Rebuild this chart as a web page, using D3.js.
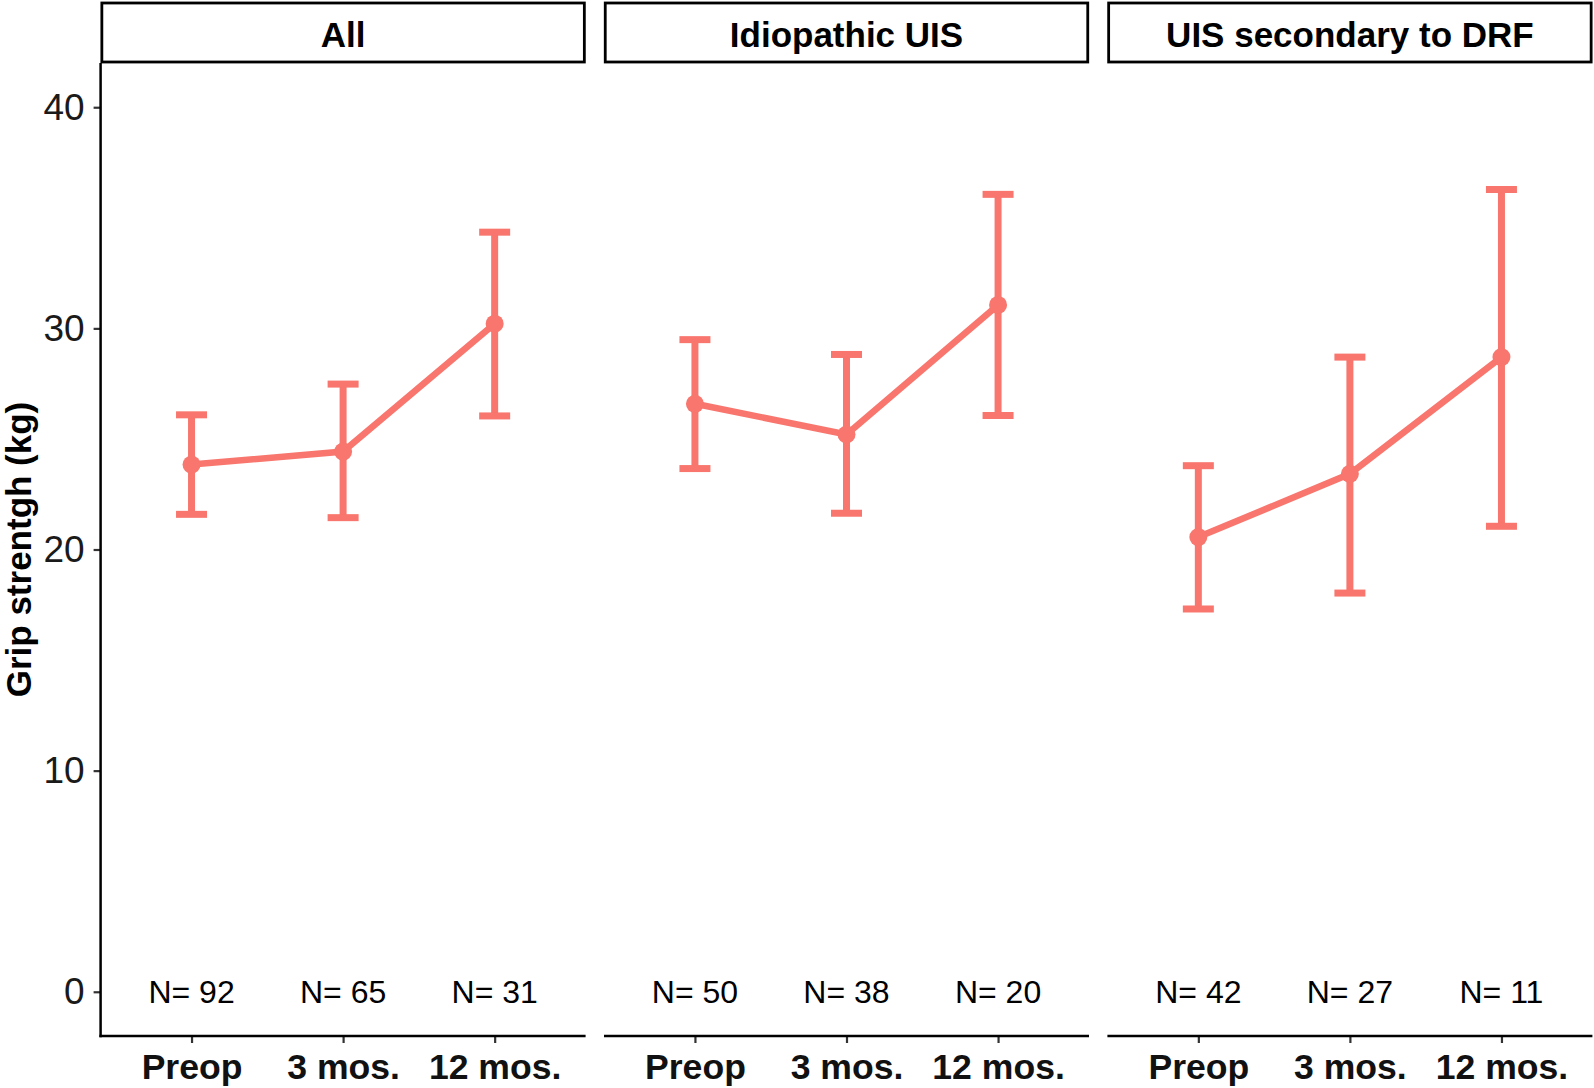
<!DOCTYPE html>
<html>
<head>
<meta charset="utf-8">
<script src="https://cdn.jsdelivr.net/npm/d3@7"></script>
<style>
  body { margin: 0; background: #fff; }
  svg { display: block; font-family: "Liberation Sans", Arial, sans-serif; }
</style>
</head>
<body>
<div id="chart"></div>
<script>
// data ------------------------------------------------------------------
const panels     = ["All", "Idiopathic UIS", "UIS secondary to DRF"]
const timepoints = ["Preop", "3 mos.", "12 mos."]

const means  = [[23.84, 24.43, 30.21], [26.59, 25.20, 31.06], [20.56, 23.42, 28.70]]
const lowers = [[21.59, 21.44, 26.04], [23.66, 21.64, 26.06], [17.31, 18.03, 21.05]]
const uppers = [[26.09, 27.48, 34.35], [29.49, 28.82, 36.06], [23.79, 28.70, 36.28]]
const counts = [[92, 65, 31], [50, 38, 20], [42, 27, 11]]

const yTicks = [0, 10, 20, 30, 40]

// layout ----------------------------------------------------------------
const width = 1594,
      height = 1088,
      panelLeft = 100.6,
      panelWidth = 485,
      panelGap = 18.4,
      plotTop = 63,
      plotBottom = 1036,
      stripTop = 3,
      lineColor = "#F8766D",
      capHalf = 15.5

const svg = d3.select("#chart").append("svg")
  .attr("width", width)
  .attr("height", height)

const y = d3.scaleLinear().domain([-2, 42]).range([plotBottom, plotTop])

// y axis only on first panel
const yAxis = svg.append("g")
  .attr("transform", `translate(${panelLeft},0)`)
  .call(d3.axisLeft(y).tickValues(yTicks).tickSize(7).tickPadding(9))
yAxis.select(".domain").remove()
yAxis.selectAll(".tick line").attr("stroke", "#333").attr("stroke-width", 2.2)
yAxis.selectAll(".tick text")
  .attr("fill", "#1a1a1a")
  .style("font-size", "37px")
  .attr("font-family", null)

svg.append("line")
  .attr("x1", panelLeft).attr("x2", panelLeft)
  .attr("y1", plotTop).attr("y2", plotBottom + 1.2)
  .attr("stroke", "#000").attr("stroke-width", 2.5)

// y title (typo kept as in the original)
svg.append("text")
  .attr("transform", `translate(31,${(plotTop + plotBottom) / 2}) rotate(-90)`)
  .attr("text-anchor", "middle")
  .style("font-size", "35px")
  .style("font-weight", "bold")
  .text("Grip strentgh (kg)")

panels.forEach((name, i) => {
  const x0 = panelLeft + i * (panelWidth + panelGap)
  const x = d3.scalePoint().domain(timepoints).range([x0, x0 + panelWidth]).padding(0.6)
  const g = svg.append("g")

  // strip
  g.append("rect")
    .attr("x", x0 + 1.25).attr("y", stripTop)
    .attr("width", panelWidth - 2.5).attr("height", plotTop - stripTop - 1)
    .attr("fill", "#fff").attr("stroke", "#000").attr("stroke-width", 2.8)
  g.append("text")
    .attr("x", x0 + panelWidth / 2).attr("y", 34)
    .attr("text-anchor", "middle")
    .attr("dominant-baseline", "central")
    .style("font-size", "35px")
    .style("font-weight", "bold")
    .text(name)

  // x axis
  const xAxis = g.append("g")
    .attr("transform", `translate(0,${plotBottom})`)
    .call(d3.axisBottom(x).tickSize(7).tickPadding(11))
  xAxis.select(".domain").remove()
  xAxis.selectAll(".tick line").attr("stroke", "#333").attr("stroke-width", 2.2)
  xAxis.selectAll(".tick text")
    .attr("fill", "#111")
    .attr("font-family", null)
    .style("font-size", "35.6px")
    .style("font-weight", "bold")
  g.append("line")
    .attr("x1", x0 - (i === 0 ? 1.2 : 0)).attr("x2", x0 + panelWidth)
    .attr("y1", plotBottom).attr("y2", plotBottom)
    .attr("stroke", "#000").attr("stroke-width", 2.5)

  const rows = timepoints.map((t, j) => ({
    t, mean: means[i][j], lo: lowers[i][j], hi: uppers[i][j], n: counts[i][j]
  }))

  // error bars
  const eb = g.selectAll(".eb").data(rows).enter().append("g")
  eb.append("line")
    .attr("x1", d => x(d.t)).attr("x2", d => x(d.t))
    .attr("y1", d => y(d.lo)).attr("y2", d => y(d.hi))
    .attr("stroke", lineColor).attr("stroke-width", 7)
  eb.append("line")
    .attr("x1", d => x(d.t) - capHalf).attr("x2", d => x(d.t) + capHalf)
    .attr("y1", d => y(d.hi)).attr("y2", d => y(d.hi))
    .attr("stroke", lineColor).attr("stroke-width", 7)
  eb.append("line")
    .attr("x1", d => x(d.t) - capHalf).attr("x2", d => x(d.t) + capHalf)
    .attr("y1", d => y(d.lo)).attr("y2", d => y(d.lo))
    .attr("stroke", lineColor).attr("stroke-width", 7)

  // mean line and points
  g.append("path")
    .datum(rows)
    .attr("fill", "none")
    .attr("stroke", lineColor)
    .attr("stroke-width", 6.5)
    .attr("d", d3.line().x(d => x(d.t)).y(d => y(d.mean)))
  g.selectAll(".pt").data(rows).enter().append("circle")
    .attr("cx", d => x(d.t)).attr("cy", d => y(d.mean))
    .attr("r", 9)
    .attr("fill", lineColor)

  // sample sizes
  g.selectAll(".n").data(rows).enter().append("text")
    .attr("x", d => x(d.t)).attr("y", y(0))
    .attr("text-anchor", "middle")
    .attr("dominant-baseline", "central")
    .style("font-size", "32px")
    .attr("fill", "#000")
    .text(d => "N= " + d.n)
})
</script>
</body>
</html>
